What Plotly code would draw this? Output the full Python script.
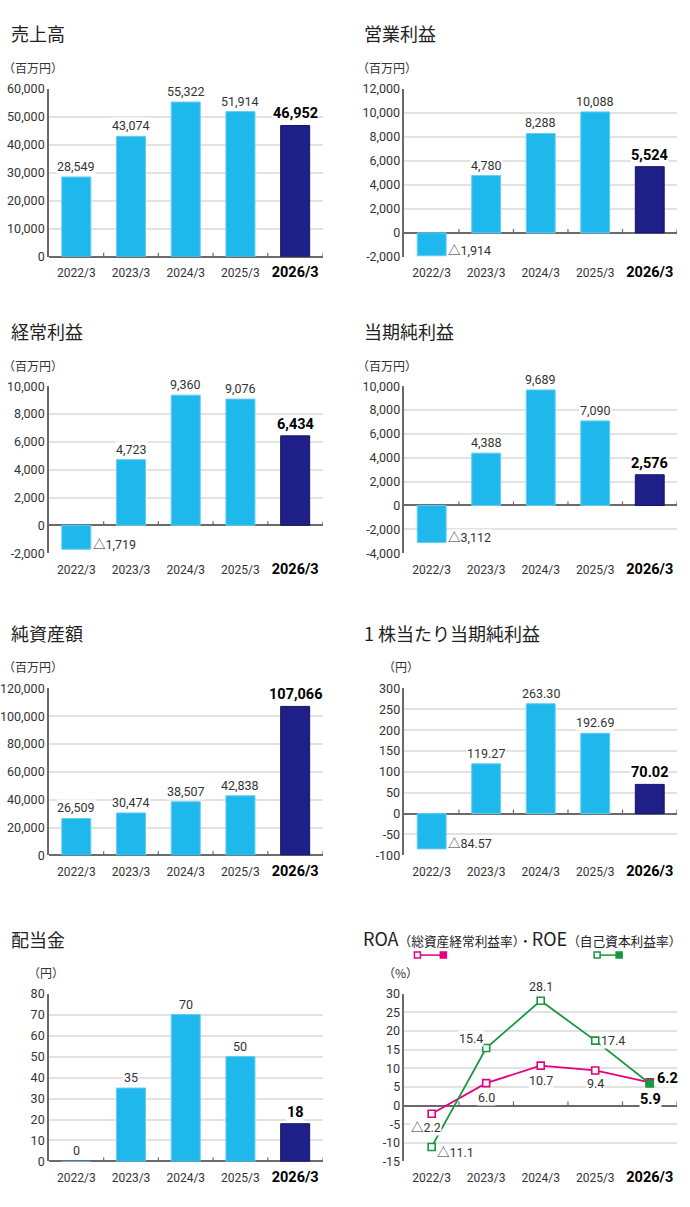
import plotly.graph_objects as go

W, H = 690, 1207

# ---------------- data ----------------
years = ["2022/3", "2023/3", "2024/3", "2025/3", "2026/3"]
sales = [28549, 43074, 55322, 51914, 46952]
operating_income = [-1914, 4780, 8288, 10088, 5524]
ordinary_income = [-1719, 4723, 9360, 9076, 6434]
net_income = [-3112, 4388, 9689, 7090, 2576]
net_assets = [26509, 30474, 38507, 42838, 107066]
eps = [-84.57, 119.27, 263.30, 192.69, 70.02]
dividend = [0, 35, 70, 50, 18]
roa = [-2.2, 6.0, 10.7, 9.4, 6.2]
roe = [-11.1, 15.4, 28.1, 17.4, 5.9]

titles = ["売上高", "営業利益", "経常利益", "当期純利益", "純資産額", "1 株当たり当期純利益", "配当金"]
units = ["（百万円）", "（百万円）", "（百万円）", "（百万円）", "（百万円）", "（円）", "（円）", "（%）"]
y_ticks = [
    [0, 10000, 20000, 30000, 40000, 50000, 60000],
    [-2000, 0, 2000, 4000, 6000, 8000, 10000, 12000],
    [-2000, 0, 2000, 4000, 6000, 8000, 10000],
    [-4000, -2000, 0, 2000, 4000, 6000, 8000, 10000],
    [0, 20000, 40000, 60000, 80000, 100000, 120000],
    [-100, -50, 0, 50, 100, 150, 200, 250, 300],
    [0, 10, 20, 30, 40, 50, 60, 70, 80],
    [-15, -10, -5, 0, 5, 10, 15, 20, 25, 30],
]
bar_series = [sales, operating_income, ordinary_income, net_income, net_assets, eps, dividend]
decimals = [0, 0, 0, 0, 0, 2, 0]

# ---------------- style ----------------
FONT = "Roboto, 'Noto Sans CJK JP', sans-serif"
JFONT = "'Noto Sans CJK JP', sans-serif"
LIGHT = "#1eb8ec"
NAVY = "#1f1f88"
PINK = "#e4007f"
GREEN = "#1a9640"
TXT = "#333333"
GRID = "#e2e2e2"
AXIS = "#6a6a6a"

cols = [(48, 322), (404, 677)]
rows = [(82, 252), (383, 552), (689, 858), (998, 1168)]
title_y = [25, 327, 633, 943]
unit_y = [60, 362, 667, 977]


def px(x):
    return x / W


def py(y):
    return 1 - y / H


def fmt(v, d):
    s = f"{abs(v):,.{d}f}"
    return ("△" + s) if v < 0 else s


fig = go.Figure()
annotations = []
shapes = []

for k in range(8):
    r, c = divmod(k, 2)
    n = k + 1
    xs = "" if n == 1 else str(n)
    xa, ya = "x" + xs, "y" + xs
    x0, x1 = cols[c]
    y0, y1 = rows[r]
    tv = y_ticks[k]
    ticktext = [f"{v:,}" for v in tv]
    fig.update_layout(**{
        "xaxis" + xs: dict(
            domain=[px(x0), px(x1)], anchor=ya, range=[-0.5, 4.5],
            tickvals=list(range(5)),
            ticktext=years[:4] + ['<span style="font-size:14.5px;color:#000"><b>' + years[4] + "</b></span>"],
            showgrid=False, zeroline=False, showline=False,
            ticks="outside", ticklen=5, tickcolor="rgba(0,0,0,0)",
            tickfont=dict(family=FONT, size=12, color=TXT), fixedrange=True,
        ),
        "yaxis" + xs: dict(
            domain=[py(y1), py(y0)], anchor=xa, range=[tv[0], tv[-1]],
            tickvals=tv, ticktext=ticktext,
            showgrid=True, gridcolor=GRID, gridwidth=1.5,
            showline=True, linecolor=AXIS, linewidth=1.5,
            zeroline=True, zerolinecolor=AXIS, zerolinewidth=1.5,
            ticks="", tickfont=dict(family=FONT, size=12.5, color=TXT), fixedrange=True,
        ),
    })
    # boundary tick marks on the zero line
    for b in [0.5, 1.5, 2.5, 3.5, 4.5]:
        shapes.append(dict(type="line", xref=xa, yref=ya, x0=b, x1=b,
                           ysizemode="pixel", yanchor=0, y0=0, y1=4,
                           line=dict(color=AXIS, width=1.2), layer="above"))
    # title & unit
    xl = 8 if c == 0 else 362
    if k < 7:
        annotations.append(dict(xref="paper", yref="paper", x=px(xl), y=py(title_y[r]),
                                xanchor="left", yanchor="middle", showarrow=False,
                                text=titles[k], font=dict(family=JFONT, size=18, color="#222")))
    ux = {0: 0, 1: 355, 2: 0, 3: 355, 4: 0, 5: 381, 6: 25, 7: 381}[k]
    annotations.append(dict(xref="paper", yref="paper", x=px(ux), y=py(unit_y[r]),
                            xanchor="left", yanchor="middle", showarrow=False,
                            text=units[k], font=dict(family=JFONT, size=12, color=TXT)))

    if k < 7:
        vals = bar_series[k]
        fig.add_trace(go.Bar(
            x=list(range(5)), y=vals, xaxis=xa, yaxis=ya, width=0.53,
            marker=dict(color=[LIGHT] * 4 + [NAVY],
                        line=dict(color=["#63cdf2"] * 4 + ["#15156a"], width=1)),
            hoverinfo="skip",
        ))
        for i, v in enumerate(vals):
            last = i == 4
            f = dict(family=FONT, size=14.5 if last else 12.5, color="#000" if last else TXT)
            t = fmt(v, decimals[k])
            if last:
                t = "<b>" + t + "</b>"
            if v >= 0:
                annotations.append(dict(xref=xa, yref=ya, x=i, y=v, xanchor="center", yanchor="bottom",
                                        yshift=2, showarrow=False, text=t, font=f,
                                        bgcolor="white", borderpad=0))
            else:
                annotations.append(dict(xref=xa, yref=ya, x=i + 0.265, y=v, xanchor="left", yanchor="middle",
                                        xshift=1, yshift=5, showarrow=False, text=t, font=f,
                                        bgcolor="white", borderpad=0))

# ---------------- ROA / ROE ----------------
fig.add_trace(go.Scatter(
    x=list(range(5)), y=roa, xaxis="x8", yaxis="y8", mode="lines+markers",
    line=dict(color=PINK, width=1.8),
    marker=dict(symbol="square", size=7, color=["white"] * 4 + [PINK], line=dict(color=PINK, width=1.6)),
    hoverinfo="skip",
))
fig.add_trace(go.Scatter(
    x=list(range(5)), y=roe, xaxis="x8", yaxis="y8", mode="lines+markers",
    line=dict(color=GREEN, width=1.8),
    marker=dict(symbol="square", size=7, color=["white"] * 4 + [GREEN], line=dict(color=GREEN, width=1.6)),
    hoverinfo="skip",
))

# label placements (style only)
roa_pos = [
    dict(xanchor="center", yanchor="top", xshift=-6, yshift=-5),
    dict(xanchor="center", yanchor="top", xshift=0, yshift=-6),
    dict(xanchor="center", yanchor="top", xshift=0, yshift=-6),
    dict(xanchor="center", yanchor="top", xshift=0, yshift=-5),
    dict(xanchor="left", yanchor="middle", xshift=6, yshift=4),
]
roe_pos = [
    dict(xanchor="left", yanchor="middle", xshift=4, yshift=-6),
    dict(xanchor="right", yanchor="middle", xshift=-2, yshift=10),
    dict(xanchor="center", yanchor="bottom", xshift=0, yshift=6),
    dict(xanchor="left", yanchor="middle", xshift=5, yshift=0),
    dict(xanchor="center", yanchor="top", xshift=1, yshift=-6),
]
for series, placements in ((roa, roa_pos), (roe, roe_pos)):
    for i, v in enumerate(series):
        last = i == 4
        f = dict(family=FONT, size=14.5 if last else 12.5, color="#000" if last else TXT)
        t = fmt(v, 1)
        if last:
            t = "<b>" + t + "</b>"
        annotations.append(dict(xref="x8", yref="y8", x=i, y=v, showarrow=False, text=t, font=f,
                                bgcolor="white", borderpad=0, **placements[i]))

# ROA/ROE title
annotations.append(dict(
    xref="paper", yref="paper", x=px(361), y=py(942), xanchor="left", yanchor="middle", showarrow=False,
    text='<span style="font-size:18px">ROA</span>（総資産経常利益率）・'
         '<span style="font-size:18px">ROE</span>（自己資本利益率）',
    font=dict(family=JFONT, size=12.7, color="#222"),
))


# legend glyphs (open square — filled square)
def legend_glyph(xa_, xb_, yc, color):
    s = 3
    shapes.append(dict(type="line", xref="paper", yref="paper", x0=px(xa_), x1=px(xb_), y0=py(yc), y1=py(yc),
                       line=dict(color=color, width=1.5)))
    shapes.append(dict(type="rect", xref="paper", yref="paper", x0=px(xa_ - s), x1=px(xa_ + s),
                       y0=py(yc + s), y1=py(yc - s), fillcolor="white", line=dict(color=color, width=1.5)))
    shapes.append(dict(type="rect", xref="paper", yref="paper", x0=px(xb_ - s), x1=px(xb_ + s),
                       y0=py(yc + s), y1=py(yc - s), fillcolor=color, line=dict(color=color, width=1.5)))


legend_glyph(417, 443, 959, PINK)
legend_glyph(597, 619, 959, GREEN)

fig.update_layout(
    width=W, height=H, margin=dict(l=0, r=0, t=0, b=0),
    paper_bgcolor="white", plot_bgcolor="white", showlegend=False,
    annotations=annotations, shapes=shapes, bargap=0.47,
)
fig.write_html("out.html")
